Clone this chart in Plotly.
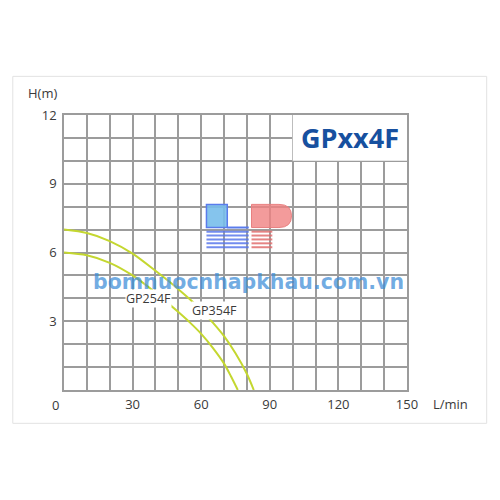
import plotly.graph_objects as go

# pump curves (flow L/min, head m)
flow_gp354f = [0, 10, 20, 30, 40, 50, 60, 65, 70, 75, 80, 83]
head_gp354f = [7.0, 6.85, 6.5, 5.95, 5.2, 4.4, 3.5, 2.95, 2.35, 1.6, 0.7, 0.0]

flow_gp254f = [0, 10, 20, 30, 40, 50, 55, 60, 65, 70, 73, 76]
head_gp254f = [6.0, 5.88, 5.55, 5.0, 4.25, 3.4, 2.95, 2.45, 1.85, 1.15, 0.6, 0.0]

x_labels = [30, 60, 90, 120, 150]
y_labels = [3, 6, 9, 12]

CURVE = "#c4d730"
GRID = "#9c9c9c"
TXT = "#3a3a3a"
FONT = "Open Sans"

fig = go.Figure()

for fx, hy in [(flow_gp354f, head_gp354f), (flow_gp254f, head_gp254f)]:
    fig.add_trace(go.Scatter(
        x=fx, y=hy, mode="lines",
        line=dict(color=CURVE, width=2, shape="spline", smoothing=0.8),
        hoverinfo="skip", showlegend=False,
    ))

x_grid = list(range(0, 151, 10))
y_grid = list(range(0, 13))

fig.update_xaxes(
    range=[0, 150], tickvals=x_grid,
    ticktext=[str(v) if v in x_labels else "" for v in x_grid],
    showgrid=True, gridcolor=GRID, gridwidth=1.5,
    showline=True, linecolor=GRID, linewidth=1.5, mirror=True,
    zeroline=False, ticks="", ticklabelstandoff=2,
    tickfont=dict(family=FONT, size=13, color=TXT),
)
fig.update_yaxes(
    range=[0, 12], tickvals=y_grid,
    ticktext=[str(v) if v in y_labels else "" for v in y_grid],
    showgrid=True, gridcolor=GRID, gridwidth=1.5,
    showline=True, linecolor=GRID, linewidth=1.5, mirror=True,
    zeroline=False, ticks="", ticklabelstandoff=3,
    tickfont=dict(family=FONT, size=13, color=TXT),
)

shapes = [
    # outer light frame
    dict(type="rect", xref="paper", yref="paper", x0=-0.1493, x1=1.2323, y0=-0.1212, y1=1.1405,
         line=dict(color="#e2e2e2", width=1), fillcolor="rgba(0,0,0,0)", layer="below"),
    # white box behind the model name
    dict(type="rect", xref="x", yref="y", x0=100, x1=150, y0=10, y1=12,
         line=dict(width=0), fillcolor="white", layer="between"),
    # logo: blue L
    dict(type="rect", xref="x", yref="y", x0=62.3, x1=71.4, y0=7.09, y1=8.1,
         line=dict(color="#5a7cec", width=1.5), fillcolor="rgba(120,190,235,0.9)", layer="above"),
    dict(type="line", xref="x", yref="y", x0=71.4, x1=80.8, y0=7.09, y1=7.09,
         line=dict(color="#5a7cec", width=2), layer="above"),
    # logo: red P
    dict(type="path", xref="x", yref="y",
         path="M 82,8.1 L 94,8.1 Q 99.5,8.1 99.5,7.6 Q 99.5,7.09 94,7.09 L 82,7.09 Z",
         line=dict(color="#e88080", width=1), fillcolor="rgba(240,130,130,0.8)", layer="above"),
]
for h in [6.91, 6.74, 6.57, 6.4, 6.23]:
    shapes.append(dict(type="line", xref="x", yref="y", x0=62.3, x1=80.8, y0=h, y1=h,
                       line=dict(color="rgba(90,120,235,0.85)", width=2), layer="above"))
    shapes.append(dict(type="line", xref="x", yref="y", x0=82, x1=91.1, y0=h, y1=h,
                       line=dict(color="rgba(225,110,110,0.85)", width=2), layer="above"))


def note(text, x, y, ref, font, **kw):
    return dict(text=text, x=x, y=y, xref=ref[0], yref=ref[1], showarrow=False,
                xanchor="center", yanchor="middle", font=font, **kw)


small = dict(family=FONT, size=13, color=TXT)
annotations = [
    note("GPxx4F", 125, 11, ("x", "y"),
         dict(family=FONT, size=27, color="#17509f", weight="bold")),
    note("GP254F", 37, 4.0, ("x", "y"), dict(small, size=12.5), bgcolor="white", borderpad=0),
    note("GP354F", 65.6, 3.48, ("x", "y"), dict(small, size=12.5), bgcolor="white", borderpad=0),
    note("bomnuocnhapkhau.com.vn", 0.5386, 0.392, ("paper", "paper"),
         dict(family="DejaVu Sans", size=20.5, color="rgba(60,140,215,0.72)", weight="bold")),
    note("H(m)", -0.064, 1.0786, ("paper", "paper"), small),
    note("L/min", 1.1266, -0.052, ("paper", "paper"), small),
    note("0", -0.0262, -0.0557, ("paper", "paper"), small),
]

# page body has an 8px margin, so the figure is 484px and offsets shrink by 8
fig.update_layout(
    width=484, height=484,
    margin=dict(l=56, r=84.5, t=107, b=102.3),
    paper_bgcolor="white", plot_bgcolor="white",
    shapes=shapes, annotations=annotations,
    showlegend=False,
)

fig.write_html("out.html")
